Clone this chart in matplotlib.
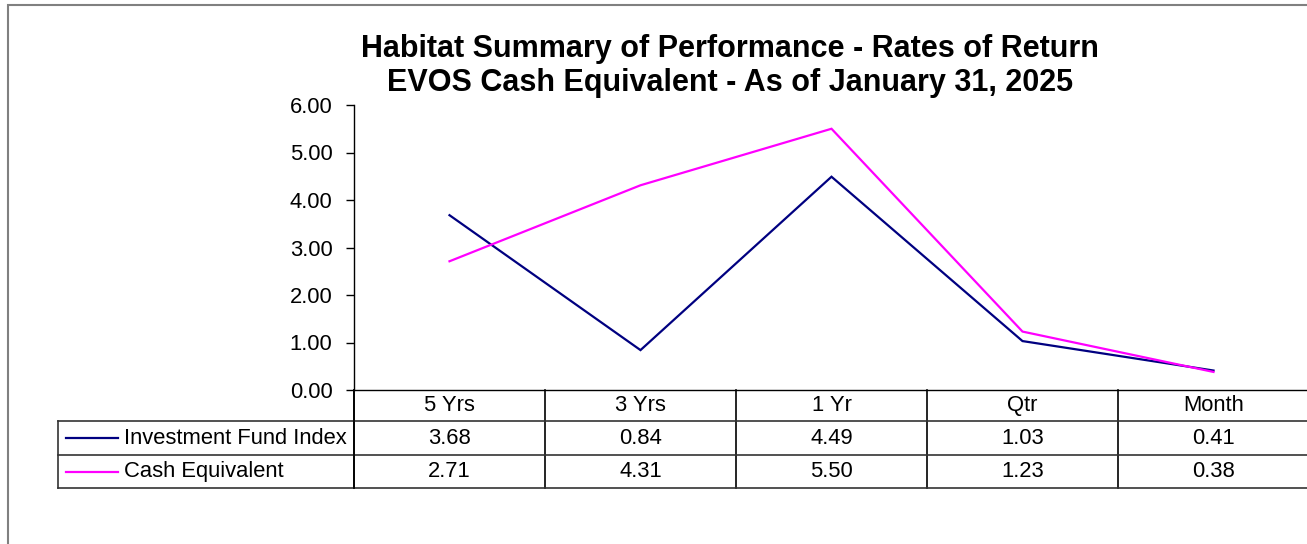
import matplotlib
matplotlib.use("Agg")
import matplotlib.pyplot as plt
from matplotlib.patches import Rectangle
from matplotlib.lines import Line2D
import matplotlib.transforms as mtransforms

categories = ["5 Yrs", "3 Yrs", "1 Yr", "Qtr", "Month"]
series_names = ["Investment Fund Index", "Cash Equivalent"]
fund_index = [3.68, 0.84, 4.49, 1.03, 0.41]
cash_equiv = [2.71, 4.31, 5.50, 1.23, 0.38]
yticks = [0, 1, 2, 3, 4, 5, 6]
colors = ["#000080", "#FF00FF"]
title = "Habitat Summary of Performance - Rates of Return\nEVOS Cash Equivalent - As of January 31, 2025"

plt.rcParams['font.family'] = ['Liberation Sans', 'DejaVu Sans']

W, H = 1307, 544
fig = plt.figure(figsize=(W / 100, H / 100), dpi=100)
FS = 15.8

def fx(px):
    return px / W

def fy(py):
    return 1 - py / H

# axes: x from 354 to 1309 px, y from 105 to 390 px
ax_l, ax_r, ax_t, ax_b = 354, 1309, 105, 390
ax = fig.add_axes([fx(ax_l), fy(ax_b), fx(ax_r - ax_l), (ax_b - ax_t) / H])
xs = list(range(len(categories)))
for vals, c in zip([fund_index, cash_equiv], colors):
    ax.plot(xs, vals, color=c, lw=1.6, solid_joinstyle='miter')
ax.set_xlim(-0.5, len(categories) - 0.5)
ax.set_ylim(0, 6)
ax.set_yticks(yticks)
ax.set_yticklabels([f"{v:.2f}" for v in yticks], fontsize=FS)
ax.tick_params(axis='y', direction='out', length=6, width=1, pad=9.5, colors='black')
ax.set_xticks([])
for s in ['top', 'right']:
    ax.spines[s].set_visible(False)
ax.spines['left'].set_linewidth(1)
ax.spines['bottom'].set_linewidth(1)
ax.patch.set_alpha(0)

# table drawn in blended coords: x in data, y in axes fraction
trans = mtransforms.blended_transform_factory(ax.transData, ax.transAxes)
axh = ax_b - ax_t

def ya(py):
    return (ax_b - py) / axh

row_edges = [390, 421, 455, 488]
# vertical column boundaries
for i in range(len(categories) + 1):
    x = i - 0.5
    ax.add_line(Line2D([x, x], [ya(390), ya(488)], transform=trans, color='black',
                       lw=1.2, clip_on=False))
# horizontal lines spanning legend cell to right
leg_left_px = 58
ftrans = fig.transFigure
for py in row_edges[1:]:
    fig.add_artist(Line2D([fx(leg_left_px), fx(ax_r)], [fy(py), fy(py)], transform=ftrans,
                          color='#333333', lw=1.2))
fig.add_artist(Line2D([fx(leg_left_px), fx(leg_left_px)], [fy(421), fy(488)], transform=ftrans,
                      color='#333333', lw=1.2))
fig.add_artist(Line2D([fx(ax_l), fx(ax_l)], [fy(390), fy(488)], transform=ftrans,
                      color='black', lw=1.2))

# header row
for i, cat in enumerate(categories):
    ax.text(i, ya(405.5), cat, transform=trans, ha='center', va='center', fontsize=FS, clip_on=False)
# data rows
for r, (vals, name, c) in enumerate(zip([fund_index, cash_equiv], series_names, colors)):
    yc = (row_edges[r + 1] + row_edges[r + 2]) / 2
    for i, v in enumerate(vals):
        ax.text(i, ya(yc), f"{v:.2f}", transform=trans, ha='center', va='center', fontsize=FS,
                clip_on=False)
    fig.add_artist(Line2D([fx(66), fx(118)], [fy(yc), fy(yc)], transform=ftrans, color=c, lw=1.6))
    fig.text(fx(124), fy(yc), name, ha='left', va='center', fontsize=FS)

# title
fig.text(fx(730), fy(66), title, ha='center', va='center', fontsize=22, fontweight='bold',
         linespacing=1.17)

# outer border (grey), right/bottom edges off-canvas
fig.add_artist(Rectangle((fx(8), fy(560)), fx(1320), (560 - 5) / H, transform=ftrans,
                         fill=False, edgecolor='#808080', lw=1.5))

fig.savefig("out.png", dpi=100)
